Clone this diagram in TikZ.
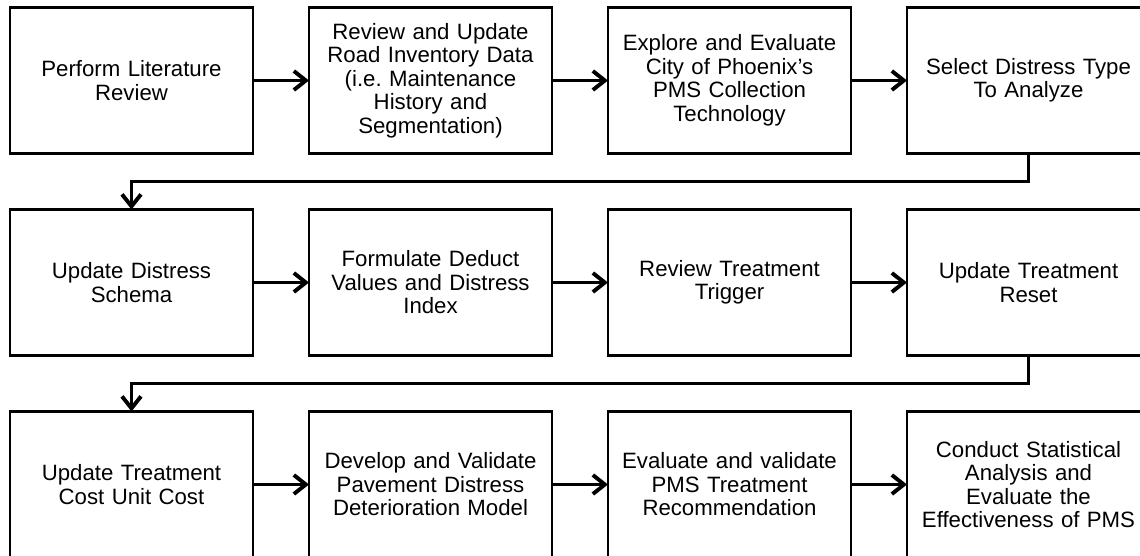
\documentclass[tikz,border=0pt]{standalone}
\usepackage{fontspec}
\setmainfont{Liberation Sans}
\usetikzlibrary{positioning,arrows.meta}
\begin{document}
\begin{tikzpicture}[x=1pt, y=1pt, >={Straight Barb[length=12pt,width=19pt]}, node distance=56pt,
  procbox/.style={draw, line width=2.8pt, outer sep=0pt, minimum width=243pt, minimum height=146pt,
    text width=234pt, align=center, font=\fontsize{22.2}{23.5}\selectfont},
  flow/.style={->, line width=3.9pt}]
\useasboundingbox (0,0) rectangle (1140,-556);

\node[procbox] (lit) at (131.5,-80.5) {Perform Literature\\Review};
\node[procbox, right=of lit] (inv) {Review and Update\\Road Inventory Data\\(i.e.\ Maintenance\\History and\\Segmentation)};
\node[procbox, right=of inv] (tech) {Explore and Evaluate\\City of Phoenix’s\\PMS Collection\\Technology};
\node[procbox, right=of tech] (sel) {Select Distress Type\\To Analyze};

\node[procbox, below=of lit] (sch) {Update Distress\\Schema};
\node[procbox, right=of sch] (ded) {Formulate Deduct\\Values and Distress\\Index};
\node[procbox, right=of ded] (trig) {Review Treatment\\Trigger};
\node[procbox, right=of trig] (reset) {Update Treatment\\Reset};

\node[procbox, below=of sch] (cost) {Update Treatment\\Cost Unit Cost};
\node[procbox, right=of cost] (model) {Develop and Validate\\Pavement Distress\\Deterioration Model};
\node[procbox, right=of model] (rec) {Evaluate and validate\\PMS Treatment\\Recommendation};
\node[procbox, right=of rec] (stat) {Conduct Statistical\\Analysis and\\Evaluate the\\Effectiveness of PMS};

\draw [flow] (lit)--(inv);
\draw [flow] (inv)--(tech);
\draw [flow] (tech)--(sel);
\draw [flow] (sel.south)--++(0,-28) -| (sch.north);

\draw [flow] (sch)--(ded);
\draw [flow] (ded)--(trig);
\draw [flow] (trig)--(reset);
\draw [flow] (reset.south)--++(0,-28) -| (cost.north);

\draw [flow] (cost)--(model);
\draw [flow] (model)--(rec);
\draw [flow] (rec)--(stat);
\end{tikzpicture}
\end{document}
